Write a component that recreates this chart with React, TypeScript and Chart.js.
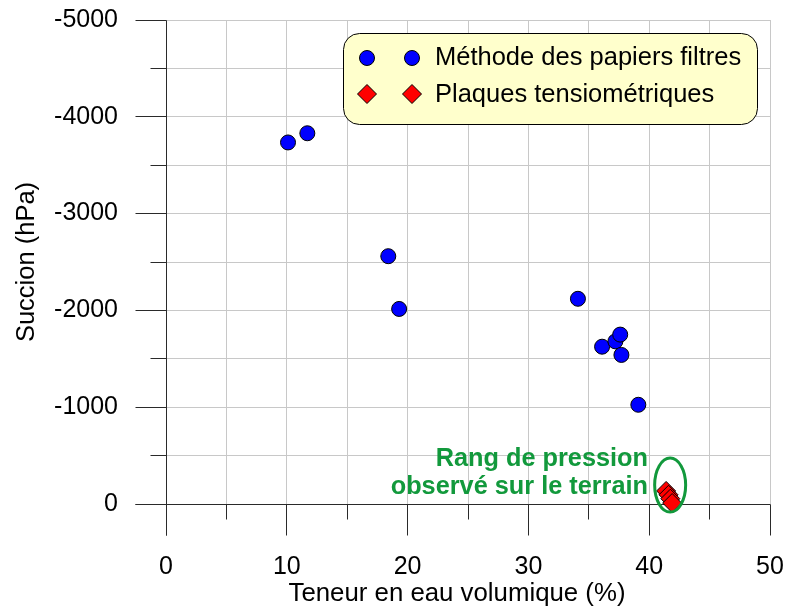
import React, { useEffect, useRef } from "react";
import { Chart, registerables } from "chart.js";

Chart.register(...registerables);

const FONT = "'Liberation Sans', Arial, Helvetica, sans-serif";

// Méthode des papiers filtres
const filterX = [10.1, 11.7, 18.4, 19.3, 34.1, 36.1, 37.2, 37.6, 37.7, 39.1];
const filterY = [-3735, -3830, -2560, -2015, -2120, -1625, -1680, -1750, -1540, -1025];
// Plaques tensiométriques
const plateX = [41.4, 41.6, 41.75, 41.9];
const plateY = [-135, -95, -55, -10];

const seriesLabels = ["Méthode des papiers filtres", "Plaques tensiométriques"];
const xTitle = "Teneur en eau volumique (%)";
const yTitle = "Succion (hPa)";
const annotationLines = ["Rang de pression", "observé sur le terrain"];
// annotation anchors in data units
const annotationTextX = 39.9;
const annotationTextY = [-465, -175];
const ellipseCenter = { x: 41.9, y: -195 };

const xMin = 0, xMax = 50, xMajor = 10, xMinor = 5;
const yMin = -5000, yMax = 0, yMajor = 1000, yMinor = 500;

const GREEN = "#12993c";

function align(p: number) {
  return Math.round(p - 0.5) + 0.5;
}

function diamond(ctx: CanvasRenderingContext2D, cx: number, cy: number, r: number) {
  ctx.beginPath();
  ctx.moveTo(cx, cy - r);
  ctx.lineTo(cx + r, cy);
  ctx.lineTo(cx, cy + r);
  ctx.lineTo(cx - r, cy);
  ctx.closePath();
  ctx.fillStyle = "#ff0000";
  ctx.fill();
  ctx.strokeStyle = "#000";
  ctx.lineWidth = 1;
  ctx.stroke();
}

function circle(ctx: CanvasRenderingContext2D, cx: number, cy: number, r: number) {
  ctx.beginPath();
  ctx.arc(cx, cy, r, 0, Math.PI * 2);
  ctx.fillStyle = "#0000ff";
  ctx.fill();
  ctx.strokeStyle = "#000";
  ctx.lineWidth = 1;
  ctx.stroke();
}

const decor = {
  id: "decor",
  beforeDatasetsDraw(chart: any) {
    const { ctx, scales } = chart;
    const x = scales.x, y = scales.y;
    ctx.save();
    ctx.strokeStyle = "#2a2a2a";
    ctx.lineWidth = 1;
    const x0 = align(x.getPixelForValue(xMin));
    const y0 = align(y.getPixelForValue(0));
    const yTop = align(y.getPixelForValue(yMin));
    const xRight = align(x.getPixelForValue(xMax));
    ctx.beginPath();
    // axis lines
    ctx.moveTo(x0, yTop);
    ctx.lineTo(x0, y0 + 31);
    ctx.moveTo(x0 - 31, y0);
    ctx.lineTo(xRight, y0);
    // y ticks
    for (let v = yMin; v <= yMax; v += yMinor) {
      const py = align(y.getPixelForValue(v));
      const len = v % yMajor === 0 ? 31 : 16;
      ctx.moveTo(x0 - len, py);
      ctx.lineTo(x0, py);
    }
    // x ticks
    for (let v = xMin; v <= xMax; v += xMinor) {
      const px = align(x.getPixelForValue(v));
      const len = v % xMajor === 0 ? 31 : 15;
      ctx.moveTo(px, y0);
      ctx.lineTo(px, y0 + len);
    }
    ctx.stroke();
    ctx.restore();
  },
  afterDatasetsDraw(chart: any) {
    const { ctx, scales } = chart;
    const x = scales.x, y = scales.y;
    ctx.save();
    // ellipse annotation
    ctx.beginPath();
    ctx.ellipse(x.getPixelForValue(ellipseCenter.x) - 2, y.getPixelForValue(ellipseCenter.y), 15.5, 27, 0, 0, Math.PI * 2);
    ctx.strokeStyle = GREEN;
    ctx.lineWidth = 3;
    ctx.stroke();

    // annotation text
    ctx.fillStyle = GREEN;
    ctx.font = `bold 25.3px ${FONT}`;
    ctx.textAlign = "right";
    ctx.textBaseline = "middle";
    annotationLines.forEach((t, i) => {
      ctx.fillText(t, x.getPixelForValue(annotationTextX), y.getPixelForValue(annotationTextY[i]));
    });

    // legend box
    ctx.beginPath();
    if ((ctx as any).roundRect) {
      (ctx as any).roundRect(343.5, 33.5, 414, 91, 16);
    } else {
      ctx.rect(343.5, 33.5, 414, 91);
    }
    ctx.fillStyle = "#ffffcc";
    ctx.fill();
    ctx.strokeStyle = "#000";
    ctx.lineWidth = 1;
    ctx.stroke();

    circle(ctx, 367, 58, 7.5);
    circle(ctx, 412, 58, 7.5);
    diamond(ctx, 367, 94, 9.5);
    diamond(ctx, 412, 94, 9.5);

    ctx.fillStyle = "#000";
    ctx.font = `25.5px ${FONT}`;
    ctx.textAlign = "left";
    ctx.textBaseline = "middle";
    ctx.fillText(seriesLabels[0], 435, 58);
    ctx.fillText(seriesLabels[1], 435, 94.5);

    // axis titles
    ctx.font = `25.8px ${FONT}`;
    ctx.textAlign = "center";
    ctx.fillText(xTitle, 457, 594);
    ctx.font = `25.5px ${FONT}`;
    ctx.translate(27, 262);
    ctx.rotate(-Math.PI / 2);
    ctx.fillText(yTitle, 0, 0);
    ctx.restore();
  },
};

export default function App() {
  const ref = useRef<HTMLCanvasElement>(null);
  useEffect(() => {
    document.body.style.margin = "0";
    const chart = new Chart(ref.current as HTMLCanvasElement, {
      type: "scatter",
      data: {
        datasets: [
          {
            label: seriesLabels[0],
            data: filterX.map((v, i) => ({ x: v, y: filterY[i] })),
            pointStyle: "circle",
            pointRadius: 7.5,
            pointHoverRadius: 7.5,
            backgroundColor: "#0000ff",
            borderColor: "#000",
            borderWidth: 1,
            showLine: false,
            clip: false as any,
          },
          {
            label: seriesLabels[1],
            data: plateX.map((v, i) => ({ x: v, y: plateY[i] })),
            pointStyle: "rectRot",
            pointRadius: 9.5,
            pointHoverRadius: 9.5,
            backgroundColor: "#ff0000",
            borderColor: "#000",
            borderWidth: 1,
            showLine: false,
            clip: false as any,
          },
        ],
      },
      options: {
        animation: false,
        responsive: false,
        devicePixelRatio: 1,
        events: [],
        layout: { autoPadding: false, padding: { top: 20, right: 16, left: 0, bottom: 0 } },
        plugins: { legend: { display: false }, tooltip: { enabled: false } },
        scales: {
          x: {
            type: "linear",
            min: xMin,
            max: xMax,
            position: "bottom",
            afterFit: (s: any) => {
              s.height = 104;
              s.paddingLeft = 0;
              s.paddingRight = 0;
            },
            ticks: {
              stepSize: xMinor,
              autoSkip: false,
              maxRotation: 0,
              padding: 48,
              color: "#000",
              font: { family: FONT, size: 25 },
              callback: (v: any) => (Number(v) % xMajor === 0 ? String(v) : ""),
            },
            grid: { color: "#c8c8c8", drawTicks: false, lineWidth: 1 },
            border: { display: false },
          },
          y: {
            type: "linear",
            min: yMin,
            max: yMax,
            reverse: true,
            afterFit: (s: any) => {
              s.width = 166;
              s.paddingTop = 0;
              s.paddingBottom = 0;
            },
            ticks: {
              stepSize: yMinor,
              autoSkip: false,
              padding: 48,
              color: "#000",
              font: { family: FONT, size: 25 },
              callback: (v: any) => (Number(v) % yMajor === 0 ? String(v) : ""),
            },
            grid: { color: "#c8c8c8", drawTicks: false, lineWidth: 1 },
            border: { display: false },
          },
        },
      },
      plugins: [decor],
    } as any);
    return () => chart.destroy();
  }, []);
  return (
    <div style={{ width: 786, height: 608 }}>
      <canvas ref={ref} width={786} height={608} style={{ display: "block" }} />
    </div>
  );
}
